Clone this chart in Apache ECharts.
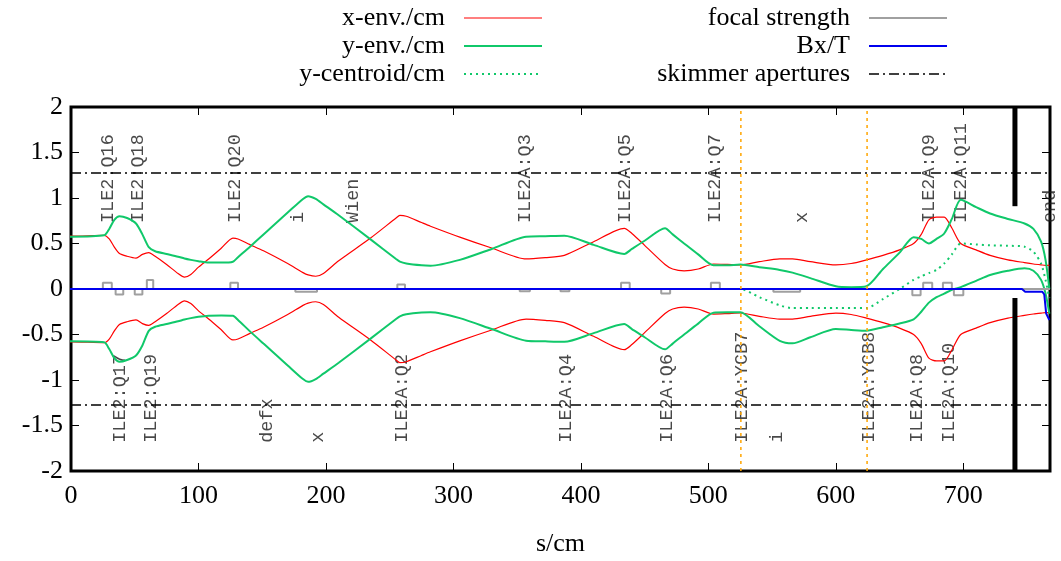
<!DOCTYPE html>
<html>
<head>
<meta charset="utf-8">
<script src="https://cdn.jsdelivr.net/npm/echarts@6/dist/echarts.min.js"></script>
<style>
html, body { margin: 0; padding: 0; background: #fff; }
#envelope { width: 1061px; height: 561px; }
</style>
</head>
<body>
<div id="envelope"></div>
<script>
// beam line position s/cm of the envelope samples
var sEnv = [-56, 0, 26, 30, 34, 38, 44, 51, 56, 61, 66, 75, 84, 89, 94, 100, 108, 118, 127, 131,
    140, 151, 170, 182, 186, 192, 198, 210, 235, 255, 258, 263, 275, 282, 305, 330, 357, 372, 387, 410,
    434, 440, 450, 466, 472, 481, 492, 504, 515, 525, 540, 556, 566, 580, 600, 612, 624, 637, 650, 661,
    667, 673, 679, 685, 691, 698, 710, 721, 735, 748, 755, 761, 764.5, 767.5];
// x half width (symmetric about 0)
var xEnv = [0.58, 0.58, 0.59, 0.55, 0.46, 0.39, 0.36, 0.34, 0.38, 0.40, 0.36, 0.27, 0.17, 0.13, 0.16, 0.24, 0.33, 0.45, 0.56, 0.55,
    0.49, 0.42, 0.28, 0.18, 0.155, 0.14, 0.17, 0.31, 0.56, 0.78, 0.81, 0.80, 0.73, 0.69, 0.57, 0.45, 0.33, 0.345, 0.37, 0.52,
    0.667, 0.61, 0.48, 0.27, 0.22, 0.20, 0.22, 0.275, 0.27, 0.264, 0.30, 0.33, 0.33, 0.30, 0.265, 0.28, 0.32, 0.37, 0.43, 0.50,
    0.60, 0.76, 0.79, 0.79, 0.67, 0.50, 0.43, 0.37, 0.32, 0.29, 0.275, 0.265, 0.26, 0.26];
// y envelope, upper and lower edge
var yEnvTop = [0.575, 0.575, 0.59, 0.66, 0.76, 0.80, 0.78, 0.72, 0.60, 0.46, 0.415, 0.385, 0.355, 0.335, 0.32, 0.305, 0.29, 0.29, 0.30, 0.35,
    0.46, 0.60, 0.84, 0.99, 1.02, 0.99, 0.93, 0.81, 0.545, 0.33, 0.30, 0.28, 0.26, 0.256, 0.32, 0.44, 0.575, 0.58, 0.585, 0.485,
    0.385, 0.44, 0.53, 0.667, 0.60, 0.50, 0.38, 0.26, 0.26, 0.27, 0.24, 0.21, 0.18, 0.12, 0.03, 0.02, 0.03, 0.22, 0.40, 0.57,
    0.55, 0.50, 0.55, 0.61, 0.77, 0.98, 0.90, 0.83, 0.77, 0.72, 0.66, 0.52, 0.32, 0.00];
var yEnvBottom = [-0.575, -0.575, -0.586, -0.66, -0.76, -0.80, -0.78, -0.73, -0.62, -0.46, -0.415, -0.385, -0.355, -0.335, -0.32, -0.305, -0.293, -0.29, -0.295, -0.34,
    -0.46, -0.60, -0.84, -0.99, -1.02, -0.99, -0.93, -0.81, -0.545, -0.33, -0.30, -0.278, -0.258, -0.256, -0.32, -0.44, -0.568, -0.575, -0.58, -0.485,
    -0.385, -0.44, -0.53, -0.663, -0.60, -0.50, -0.38, -0.26, -0.256, -0.256, -0.41, -0.57, -0.597, -0.53, -0.44, -0.45, -0.458, -0.42, -0.38, -0.333,
    -0.25, -0.15, -0.09, -0.05, -0.01, 0.02, 0.09, 0.154, 0.20, 0.227, 0.20, 0.10, -0.05, -0.27];
var yCentroid = [0, 0, 0, 0, 0, 0, 0, 0, 0, 0, 0, 0, 0, 0, 0, 0, 0, 0, 0, 0,
    0, 0, 0, 0, 0, 0, 0, 0, 0, 0, 0, 0, 0, 0, 0, 0, 0, 0, 0, 0,
    0, 0, 0, 0, 0, 0, 0, 0, 0, 0, -0.09, -0.18, -0.21, -0.21, -0.21, -0.21, -0.21, -0.11, 0.0, 0.10,
    0.14, 0.175, 0.21, 0.28, 0.38, 0.50, 0.49, 0.48, 0.475, 0.465, 0.41, 0.28, 0.10, -0.10];

// magnetic field
var sBx = [-56, 746, 748.5, 762, 763.5, 765, 767.5];
var bx = [0, 0, -0.03, -0.03, -0.06, -0.27, -0.34];

// focusing elements: start, end, strength
var focStart = [25, 35, 50, 59.5, 125, 176, 256, 352, 384, 431.5, 463, 502, 551, 660, 668.5, 684, 692.6];
var focEnd = [32, 41, 56, 64.5, 131, 193, 262, 360, 391, 438.3, 470, 509, 572, 666.5, 675.6, 691, 700];
var focK = [0.07, -0.06, -0.06, 0.1, 0.07, -0.03, 0.05, -0.025, -0.025, 0.07, -0.05, 0.07, -0.03, -0.07, 0.07, 0.07, -0.07];

// y steerers and skimmer
var corrS = [525.5, 624.5];
var skimmerAperture = 1.275;
var skimmerS = 740.5;
var skimmerTop = 0.91;
var skimmerBottom = -0.1;
var sEnd = 768;

// element names
var topLabelS = [29.3, 52.9, 128.7, 178.5, 221.6, 356.4, 434.9, 505.6, 573.6, 673, 697.9, 768];
var topLabels = ['ILE2:Q16', 'ILE2:Q18', 'ILE2:Q20', 'i', 'Wien', 'ILE2A:Q3', 'ILE2A:Q5', 'ILE2A:Q7', 'x', 'ILE2A:Q9', 'ILE2A:Q11', 'end'];
var bottomLabelS = [38.5, 62.5, 153.7, 194.2, 259.6, 388.4, 467.6, 526.5, 554, 626, 663.8, 688.7];
var bottomLabels = ['ILE2:Q17', 'ILE2:Q19', 'defx', 'x', 'ILE2A:Q2', 'ILE2A:Q4', 'ILE2A:Q6', 'ILE2A:YCB7', 'i', 'ILE2A:YCB8', 'ILE2A:Q8', 'ILE2A:Q10'];

var serif = "'Liberation Serif', 'Times New Roman', serif";
var mono = "'Liberation Mono', 'DejaVu Sans Mono', monospace";

function curve(xs, ys, sign) {
    return xs.map(function (s, i) { return [s, sign * ys[i]]; });
}

function lineSeries(name, data, color, width, type, smooth) {
    return {
        name: name,
        type: 'line',
        data: data,
        symbol: 'none',
        showSymbol: false,
        clip: false,
        silent: true,
        smooth: smooth || false,
        lineStyle: { color: color, width: width, type: type || 'solid' },
        itemStyle: { color: color }
    };
}

function labelSeries(sArr, texts, y) {
    return {
        type: 'scatter',
        silent: true,
        clip: false,
        symbolSize: 0,
        data: sArr.map(function (s, i) {
            return { value: [s, y], label: { formatter: texts[i] } };
        }),
        label: {
            show: true,
            position: [0, 0],
            rotate: 90,
            align: 'left',
            verticalAlign: 'middle',
            fontFamily: mono,
            fontSize: 18.5,
            color: '#1a1a1a'
        }
    };
}

// focal strength as a step line
var focData = [[0, 0]];
focStart.forEach(function (s0, i) {
    focData.push([s0, 0], [s0, focK[i]], [focEnd[i], focK[i]], [focEnd[i], 0]);
});
focData.push([sEnd, 0]);

var green = '#10c86a';
var dashDot = [10, 4, 2, 4];
var series = [
    lineSeries('x-env./cm', curve(sEnv, xEnv, 1), '#ff0000', 1.2, 'solid', 0.25),
    lineSeries('x-env./cm', curve(sEnv, xEnv, -1), '#ff0000', 1.2, 'solid', 0.25),
    lineSeries('y-env./cm', curve(sEnv, yEnvTop, 1), green, 2, 'solid', 0.25),
    lineSeries('y-env./cm', curve(sEnv, yEnvBottom, 1), green, 2, 'solid', 0.25),
    lineSeries('y-centroid/cm', curve(sEnv, yCentroid, 1), green, 2, [2, 4], 0.25),
    lineSeries('focal strength', focData, '#a0a0a0', 2),
    lineSeries('Bx/T', curve(sBx, bx, 1), '#0000ee', 2),
    lineSeries('skimmer apertures', [[0, skimmerAperture], [sEnd, skimmerAperture]], '#000', 1.4, dashDot),
    lineSeries('skimmer apertures', [[0, -skimmerAperture], [sEnd, -skimmerAperture]], '#000', 1.4, dashDot),
    lineSeries('skimmer wall', [[skimmerS, skimmerTop], [skimmerS, 2]], '#000', 5),
    lineSeries('skimmer wall', [[skimmerS, skimmerBottom], [skimmerS, -2]], '#000', 5)
];
corrS.forEach(function (s) {
    series.push(lineSeries('steerer', [[s, -2], [s, 2]], '#ffa500', 1.5, [3, 4]));
});
series.push(labelSeries(topLabelS, topLabels, 0.725));
series.push(labelSeries(bottomLabelS, bottomLabels, -1.69));

var tick = { inside: true, length: 8, lineStyle: { color: '#000', width: 1 } };
var noLine = { show: false, onZero: false };
var legendText = { fontFamily: serif, fontSize: 26, color: '#000', lineHeight: 28, padding: [0, 14, 0, 0] };

function legendColumn(names, right) {
    return {
        data: names,
        orient: 'vertical', align: 'right', right: right, top: 4,
        padding: 0, itemGap: 0, itemWidth: 78, itemHeight: 14,
        selectedMode: false,
        itemStyle: { opacity: 0 },
        lineStyle: { width: 'inherit' },
        textStyle: legendText
    };
}

var option = {
    animation: false,
    backgroundColor: '#fff',
    grid: {
        left: 71, right: 11, top: 107, bottom: 90,
        show: true, borderColor: '#000', borderWidth: 3,
        containLabel: false, outerBoundsMode: 'none'
    },
    legend: [
        legendColumn(['x-env./cm', 'y-env./cm', 'y-centroid/cm'], 518),
        legendColumn(['focal strength', 'Bx/T', 'skimmer apertures'], 113)
    ],
    xAxis: [
        {
            type: 'value', min: 0, max: sEnd, interval: 100, position: 'bottom',
            axisLine: noLine, axisTick: tick, splitLine: { show: false },
            axisLabel: {
                fontFamily: serif, fontSize: 26, color: '#000', margin: 12, showMaxLabel: false,
                formatter: function (v) { return v % 100 === 0 ? String(v) : ''; }
            },
            name: 's/cm', nameLocation: 'middle', nameGap: 60,
            nameTextStyle: { fontFamily: serif, fontSize: 26, color: '#000' }
        },
        {
            type: 'value', min: 0, max: sEnd, interval: 100, position: 'top',
            axisLine: noLine, axisTick: tick, splitLine: { show: false },
            axisLabel: { show: false }
        }
    ],
    yAxis: [
        {
            type: 'value', min: -2, max: 2, interval: 0.5, position: 'left',
            axisLine: noLine, axisTick: tick, splitLine: { show: false },
            axisLabel: { fontFamily: serif, fontSize: 26, color: '#000', margin: 8 }
        },
        {
            type: 'value', min: -2, max: 2, interval: 0.5, position: 'right',
            axisLine: noLine, axisTick: tick, splitLine: { show: false },
            axisLabel: { show: false }
        }
    ],
    series: series
};

var chart = echarts.init(document.getElementById('envelope'));
chart.setOption(option);
window.addEventListener('resize', function () {
    chart.resize();
});
</script>
</body>
</html>
